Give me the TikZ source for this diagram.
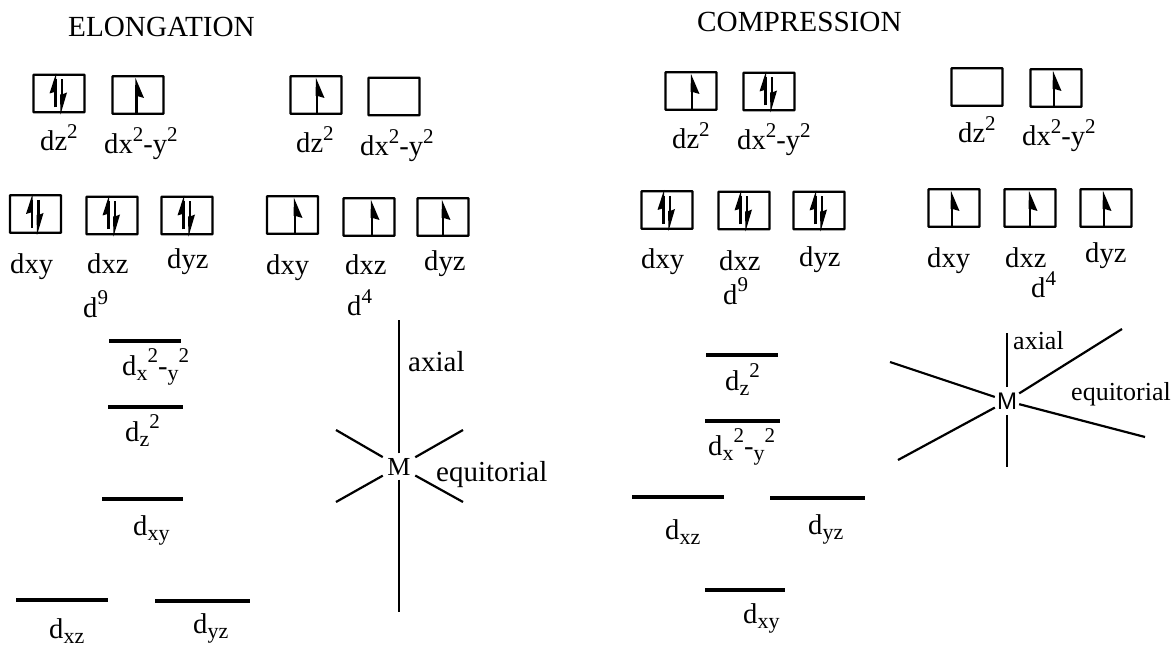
\documentclass[tikz,border=0pt]{standalone}
\usepackage{fontspec}
\setmainfont{Liberation Serif}
\newfontfamily\msans{Liberation Sans}
\newcommand{\ssup}[1]{\raisebox{0.42em}{\fontsize{21}{21}\selectfont #1}}
\newcommand{\ssub}[1]{\raisebox{-0.2em}{\fontsize{22}{22}\selectfont #1}}
\newcommand{\orb}[3]{\node[obox] (#1) at (#2,#3) {};}
\newcommand{\spinup}[2]{\draw[spin] (#1,#2) -- ++(0,-28);\fill (#1-1,#2-35) -- ++(8.5,20) -- ++(-7,-2) -- ++(-2,0) -- cycle;}
\newcommand{\spinpair}[2]{%
 \draw[spin] (#1-3.5,#2+14) -- ++(0,-28);\fill (#1-3,#2-20) -- ++(-6.5,20) -- ++(5,-1.5) -- ++(2,0) -- cycle;
 \draw[spin] (#1+3,#2-14) -- ++(0,26);\fill (#1+1.5,#2+21) -- ++(6.5,-22) -- ++(-5,2) -- ++(-2,0) -- cycle;}
\tikzset{
 x=1pt,y=-1pt,
 obox/.style={draw,line width=2.3pt,rounded corners=.6pt,minimum width=51pt,minimum height=37.5pt,inner sep=0pt},
 spin/.style={line width=2.8pt},
 level/.style={line width=3.2pt},
 bond/.style={line width=2.2pt},
 lab/.style={anchor=base west,inner sep=0pt,font=\fontsize{28.6}{30}\selectfont},
 head/.style={anchor=base west,inner sep=0pt,font=\fontsize{29.2}{30}\selectfont},
 small/.style={anchor=base west,inner sep=0pt,font=\fontsize{29}{30}\selectfont},
 smaller/.style={anchor=base west,inner sep=0pt,font=\fontsize{26}{28}\selectfont},
 metalA/.style={inner sep=4.5pt,font=\fontsize{26}{28}\selectfont},
 metalB/.style={inner xsep=2pt,inner ysep=5.5pt,font=\msans\fontsize{24}{26}\selectfont},
}
\begin{document}
\begin{tikzpicture}
\useasboundingbox (0,0) rectangle (1173,647);
% headings
\node[head] (h1) at (68,37) {ELONGATION};
\node[head] (h2) at (697,32) {COMPRESSION};
% elongation boxes
\orb{a1}{59}{93.5}\spinpair{59}{93.5}
\orb{a2}{138}{95}\spinup{136.5}{113}
\orb{a3}{316}{95}\spinup{317}{113}
\orb{a4}{394}{96.5}
\orb{b1}{35.5}{214}\spinpair{35.5}{214}
\orb{b2}{112}{215.5}\spinpair{112}{215.5}
\orb{b3}{187}{215.5}\spinpair{187}{215.5}
\orb{b4}{292.5}{215}\spinup{295}{233}
\orb{b5}{369}{217}\spinup{372}{235}
\orb{b6}{443}{217}\spinup{443}{235}
% compression boxes
\orb{c1}{691}{91}\spinup{692}{109}
\orb{c2}{769}{91.5}\spinpair{769}{91.5}
\orb{c3}{977}{87}
\orb{c4}{1056}{88}\spinup{1054}{106}
\orb{e1}{667}{210}\spinpair{667}{210}
\orb{e2}{744}{210.5}\spinpair{744}{210.5}
\orb{e3}{819}{210.5}\spinpair{819}{210.5}
\orb{e4}{954}{208}\spinup{952}{226}
\orb{e5}{1030}{208}\spinup{1030}{226}
\orb{e6}{1106}{208}\spinup{1104}{226}
% labels elongation
\node[lab] (l1) at (40,151) {dz\ssup{2}};
\node[lab] (l2) at (104,154) {dx\ssup{2}-y\ssup{2}};
\node[lab] (l3) at (296,153) {dz\ssup{2}};
\node[lab] (l4) at (360,156) {dx\ssup{2}-y\ssup{2}};
\node[lab] (l5) at (10,273) {dxy};
\node[lab] (l6) at (87,273) {dxz};
\node[lab] (l7) at (167,269) {dyz};
\node[lab] (l8) at (266,274) {dxy};
\node[lab] (l9) at (345,275) {dxz};
\node[lab] (l10) at (424,271) {dyz};
\node[lab] (l11) at (83,317) {d\ssup{9}};
\node[lab] (l12) at (347,316) {d\ssup{4}};
% labels compression
\node[lab] (m1) at (672,149) {dz\ssup{2}};
\node[lab] (m2) at (737,150) {dx\ssup{2}-y\ssup{2}};
\node[lab] (m3) at (958,143) {dz\ssup{2}};
\node[lab] (m4) at (1022,146) {dx\ssup{2}-y\ssup{2}};
\node[lab] (m5) at (641,269) {dxy};
\node[lab] (m6) at (719,270) {dxz};
\node[lab] (m7) at (799,266) {dyz};
\node[lab] (m8) at (927,268) {dxy};
\node[lab] (m9) at (1005,268) {dxz};
\node[lab] (m10) at (1085,262) {dyz};
\node[lab] (m11) at (723,304) {d\ssup{9}};
\node[lab] (m12) at (1031,298) {d\ssup{4}};
% levels elongation
\coordinate (p1a) at (109,341); \coordinate (p1b) at (181,341);
\coordinate (p2a) at (108,407); \coordinate (p2b) at (183,407);
\coordinate (p3a) at (102,499); \coordinate (p3b) at (183,499);
\coordinate (p4a) at (16,600); \coordinate (p4b) at (108,600);
\coordinate (p5a) at (155,601); \coordinate (p5b) at (250,601);
\draw[level] (p1a)--(p1b); \draw[level] (p2a)--(p2b); \draw[level] (p3a)--(p3b);
\draw[level] (p4a)--(p4b); \draw[level] (p5a)--(p5b);
\node[lab] (n1) at (122,375) {d\ssub{x}\ssup{2}-\ssub{y}\ssup{2}};
\node[lab] (n2) at (125,441) {d\ssub{z}\ssup{2}};
\node[lab] (n3) at (133,535) {d\ssub{xy}};
\node[lab] (n4) at (49,638) {d\ssub{xz}};
\node[lab] (n5) at (193,633) {d\ssub{yz}};
% levels compression
\coordinate (q1a) at (706,355); \coordinate (q1b) at (778,355);
\coordinate (q2a) at (705,421); \coordinate (q2b) at (780,421);
\coordinate (q3a) at (632,497); \coordinate (q3b) at (724,497);
\coordinate (q4a) at (770,498); \coordinate (q4b) at (865,498);
\coordinate (q5a) at (705,590); \coordinate (q5b) at (785,590);
\draw[level] (q1a)--(q1b); \draw[level] (q2a)--(q2b); \draw[level] (q3a)--(q3b);
\draw[level] (q4a)--(q4b); \draw[level] (q5a)--(q5b);
\node[lab] (o1) at (725,390) {d\ssub{z}\ssup{2}};
\node[lab] (o2) at (708,455) {d\ssub{x}\ssup{2}-\ssub{y}\ssup{2}};
\node[lab] (o3) at (665,539) {d\ssub{xz}};
\node[lab] (o4) at (808,534) {d\ssub{yz}};
\node[lab] (o5) at (743,623) {d\ssub{xy}};
% octahedron elongation
\node[metalA] (M1) at (399,466.5) {M};
\coordinate (t1) at (399,320); \coordinate (t2) at (399,612);
\coordinate (t3) at (336,430); \coordinate (t4) at (463,502);
\coordinate (t5) at (336,502); \coordinate (t6) at (463,430);
\foreach \c in {t1,t2,t3,t4,t5,t6} \draw[bond] (M1)--(\c);
\node[small] (ax1) at (408,371) {axial};
\node[small] (eq1) at (436,481) {equitorial};
% octahedron compression
\node[metalB] (M2) at (1007,401) {M};
\coordinate (u1) at (1007,333); \coordinate (u2) at (1007,467);
\coordinate (u3) at (890,362); \coordinate (u4) at (1145,437);
\coordinate (u5) at (898,460); \coordinate (u6) at (1122,329);
\foreach \c in {u1,u2,u3,u4,u5,u6} \draw[bond] (M2)--(\c);
\node[smaller] (ax2) at (1013,349) {axial};
\node[smaller] (eq2) at (1071,400) {equitorial};
\end{tikzpicture}
\end{document}
